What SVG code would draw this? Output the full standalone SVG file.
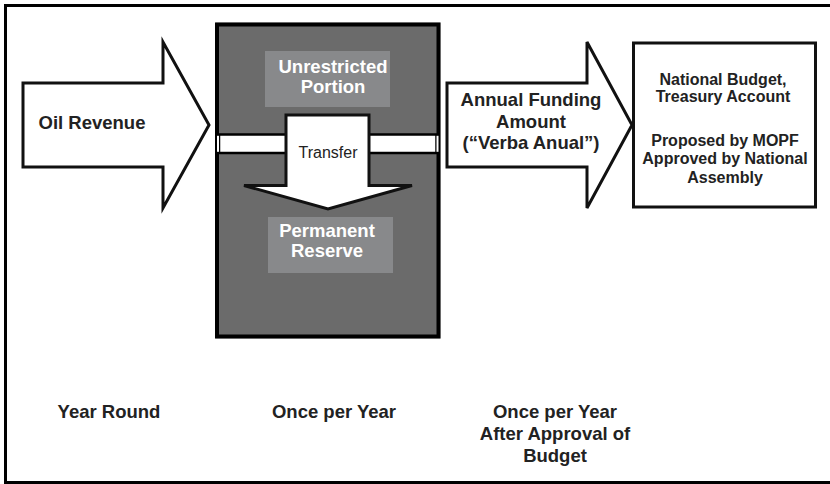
<svg xmlns="http://www.w3.org/2000/svg" width="830" height="484" viewBox="0 0 830 484">
<style>
.t{font-family:"Liberation Sans",Arial,Helvetica,sans-serif;font-weight:bold;fill:#222;text-anchor:middle}
.w{fill:#fff}
.big{font-size:18.5px}
.mid{font-size:16px}
.arrow{fill:#fff;stroke:#111;stroke-width:3;stroke-linejoin:miter}
.lbl{fill:#88898b}
</style>
<rect x="0" y="0" width="830" height="484" fill="#fff"/>
<rect id="frame" x="5.5" y="5.5" width="840" height="477" fill="none" stroke="#000" stroke-width="3"/>

<g id="fund">
  <rect x="216" y="23" width="224" height="315" fill="none" stroke="#aaa" stroke-width="1"/>
  <rect x="217" y="24.5" width="221.5" height="312" fill="#6b6b6b" stroke="#000" stroke-width="4"/>
  <rect x="219" y="134.5" width="217.5" height="18.5" fill="#fff" stroke="#000" stroke-width="2.5"/>
  <rect x="217" y="135.8" width="2" height="16" fill="#fff"/>
  <rect x="436.5" y="135.8" width="2" height="16" fill="#fff"/>
</g>

<g id="unrestricted">
  <rect class="lbl" x="265" y="51" width="125" height="56"/>
  <text class="t w big" x="333" y="73">Unrestricted</text>
  <text class="t w big" x="333" y="93">Portion</text>
</g>

<g id="permanent">
  <rect class="lbl" x="268" y="217" width="125" height="56"/>
  <text class="t w big" x="327" y="237">Permanent</text>
  <text class="t w big" x="327" y="257">Reserve</text>
</g>

<g id="connectors">
  <g id="oil-revenue">
    <polygon class="arrow" points="23,83 163,83 163,42 209,125 163,208 163,167 23,167"/>
    <text class="t big" x="92" y="129">Oil Revenue</text>
  </g>
  <g id="transfer">
    <polygon class="arrow" stroke-width="2.5" points="286,115 369,115 369,185.5 412,185.5 328,209 244,185.5 286,185.5"/>
    <text x="328" y="158" font-family="Liberation Sans,Arial,sans-serif" font-size="16" fill="#222" text-anchor="middle">Transfer</text>
  </g>
  <g id="annual-funding">
    <polygon class="arrow" points="447,83 587,83 587,42 632,125 587,208 587,167 447,167"/>
    <text class="t big" x="531" y="106">Annual Funding</text>
    <text class="t big" x="531" y="128">Amount</text>
    <text class="t big" x="531" y="149">(“Verba Anual”)</text>
  </g>
</g>

<g id="budget">
  <rect x="633.5" y="43" width="182" height="164" fill="#fff" stroke="#111" stroke-width="3"/>
  <text class="t mid" x="723" y="85">National Budget,</text>
  <text class="t mid" x="723" y="102">Treasury Account</text>
  <text class="t mid" x="725" y="146">Proposed by MOPF</text>
  <text class="t mid" x="725" y="164">Approved by National</text>
  <text class="t mid" x="725" y="183">Assembly</text>
</g>

<g id="timing">
  <text class="t big" x="109" y="418">Year Round</text>
  <text class="t big" x="334" y="418">Once per Year</text>
  <text class="t big" x="555" y="418">Once per Year</text>
  <text class="t big" x="555" y="440">After Approval of</text>
  <text class="t big" x="555" y="462">Budget</text>
</g>
</svg>
